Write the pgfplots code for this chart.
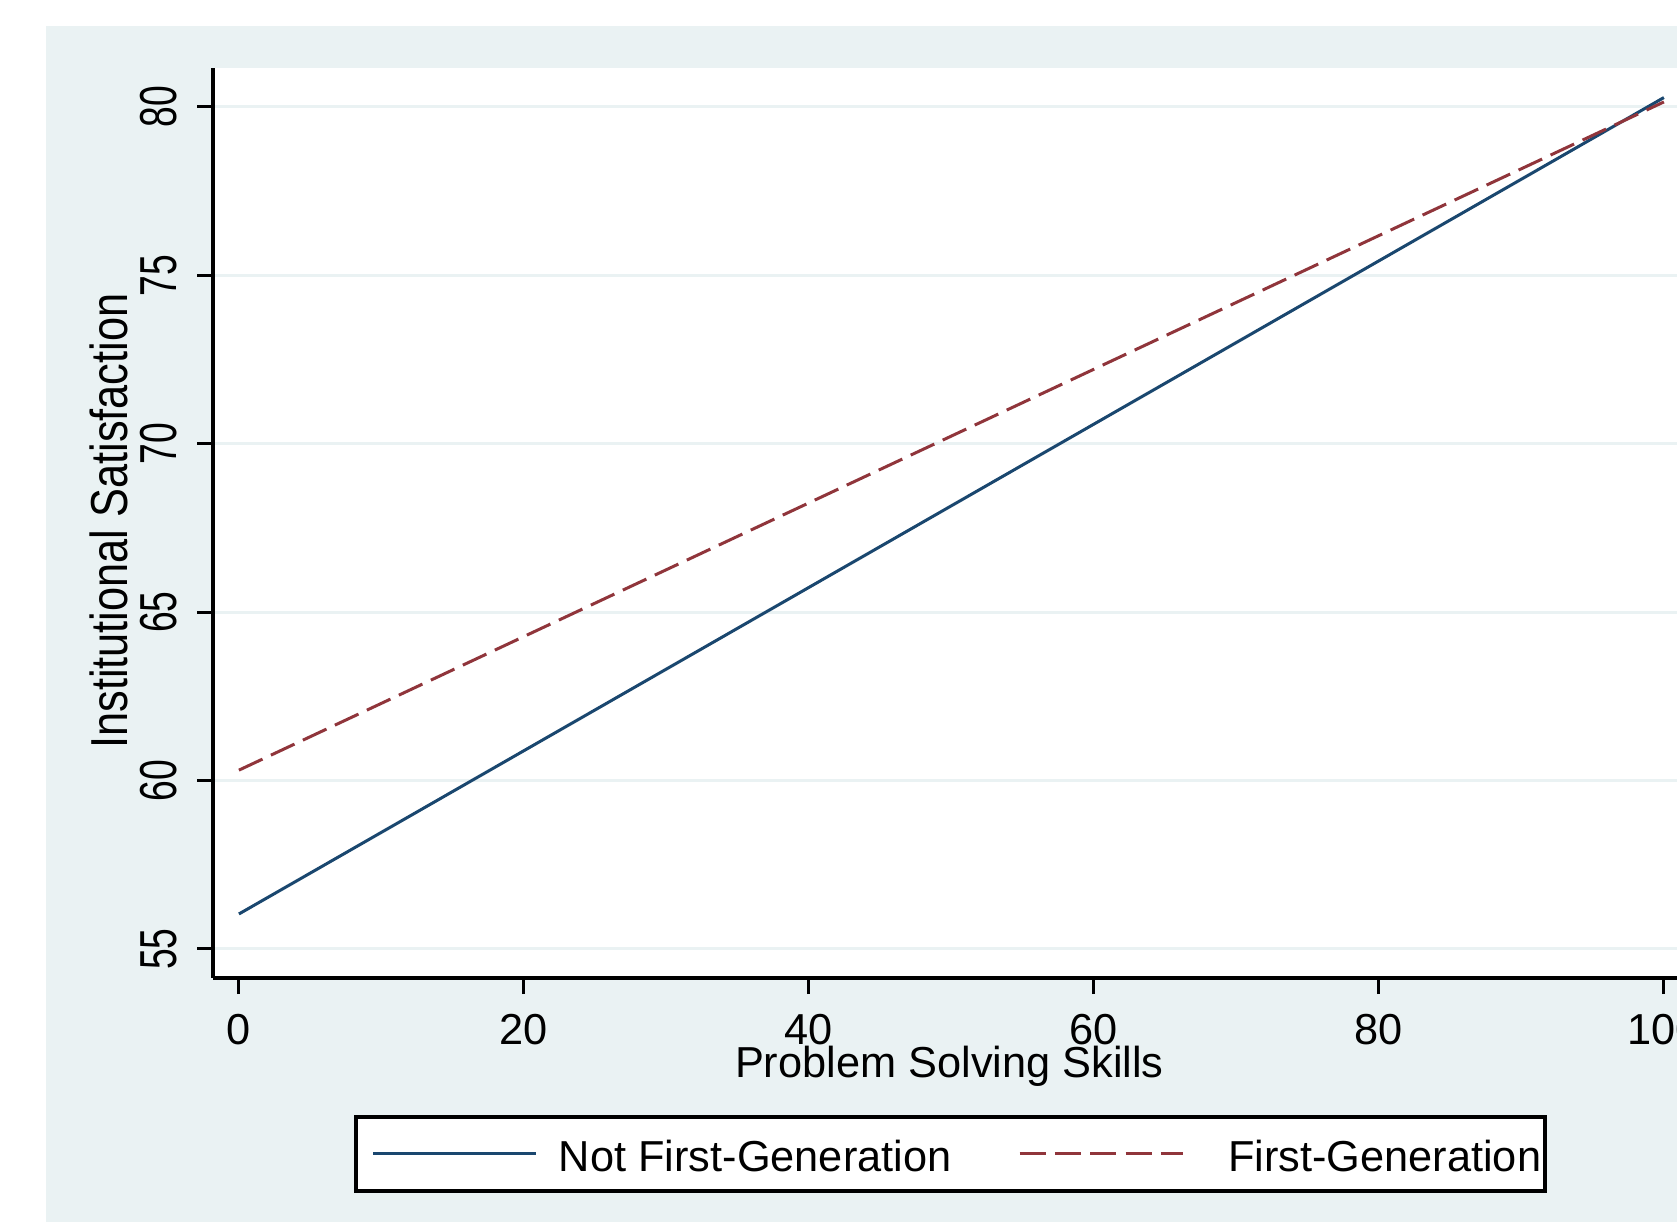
\documentclass[border=0pt]{standalone}
\usepackage{pgfplots}
\pgfplotsset{compat=1.18}
\usepackage{fontspec}
\setmainfont{Liberation Sans}
\definecolor{bgc}{HTML}{EAF2F3}
\definecolor{snavy}{RGB}{26,71,111}
\definecolor{smaroon}{RGB}{144,53,59}
\begin{document}
\fontsize{13}{15.6}\selectfont
\begin{tikzpicture}[x=1pt,y=1pt]
\useasboundingbox (0,0) rectangle (503.1,366.6);
\clip (0,0) rectangle (503.1,366.6);
\fill[white] (0,0) rectangle (503.1,366.6);
\fill[bgc] (13.8,0) rectangle (503.1,358.8);
\begin{axis}[
  at={(63.9pt,73.2pt)}, anchor=south west,
  scale only axis, width=439.2pt, height=273pt,
  xmin=-1.82, xmax=100.92, ymin=54.139, ymax=81.158,
  axis x line*=bottom, axis y line*=left,
  axis line style={line width=1.2pt, black},
  axis background/.style={fill=white},
  xtick={0,20,40,60,80,100}, ytick={55,60,65,70,75,80},
  tick align=outside, major tick length=4.8pt,
  every tick/.style={black, line width=0.9pt},
  ymajorgrids, grid style={bgc, line width=0.9pt},
  /pgf/number format/assume math mode=true,
  tick label style={font=\fontsize{13}{15.6}\selectfont, black},
  xticklabel style={yshift=-5.8pt, anchor=north, inner sep=0pt},
  yticklabel style={xshift=-5.8pt, rotate=90, xscale=0.86, yscale=1.2, anchor=south, inner sep=0pt},
  xlabel={Problem Solving Skills},
  ylabel={Institutional Satisfaction},
  xlabel style={at={(axis description cs:0.503,-0.1088)}, anchor=base, inner sep=0pt},
  ylabel style={at={(axis description cs:-0.0574,0.502)}, anchor=south, inner sep=0pt, yscale=1.2},
  legend columns=2,
  legend style={at={(axis description cs:0.5038,-0.1934)}, anchor=center,
    draw=black, line width=1.2pt, fill=white, inner xsep=4.8pt, inner ysep=5.7pt,
    nodes={inner sep=0pt, text height=10.8pt, text depth=0pt},
    cells={anchor=west}, column sep=0pt},
  legend image code/.code={\draw[#1] (0pt,0pt) -- (48.9pt,0pt);},
]
\addplot[snavy, line width=0.9pt, mark=none] coordinates {(0,56.04) (100,80.28)};
\addlegendentry{\hspace*{6.3pt}Not First-Generation\hspace*{20pt}}
\addplot[smaroon, line width=0.9pt, mark=none, dash pattern=on 7.8pt off 2.8pt] coordinates {(0,60.31) (100,80.15)};
\addlegendentry{\hspace*{13.2pt}First-Generation\hspace*{-3.6pt}}
\end{axis}
\end{tikzpicture}
\end{document}
